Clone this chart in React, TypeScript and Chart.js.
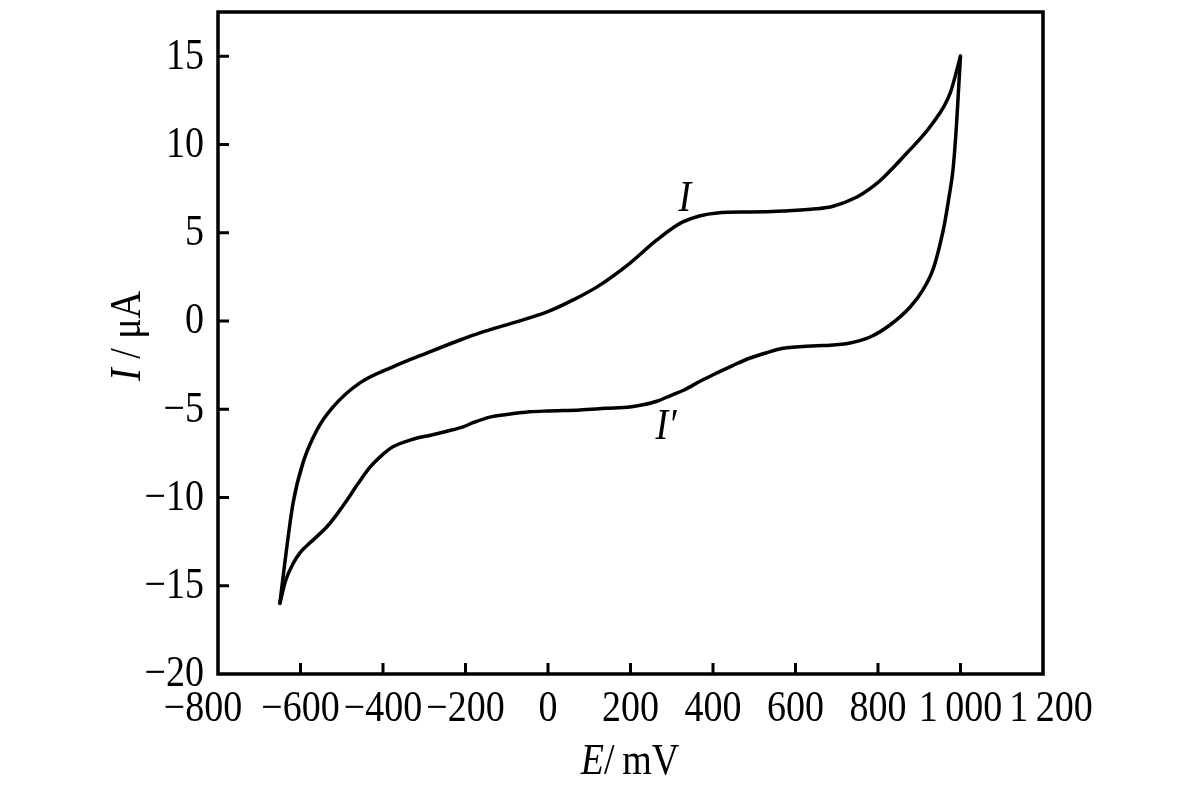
import React, { useEffect, useRef } from "react";
import { Chart, registerables } from "chart.js";

Chart.register(...registerables);

// Forward (anodic) scan, E in mV, I in µA
const forwardE = [-650, -638, -618, -594, -560, -521, -456, -376, -293, -213, -165, -85, -2, 61, 119, 199, 264, 327, 410, 490, 570, 650, 691, 749, 788, 812, 870, 933, 975, 1000];
const forwardI = [-16.0, -13.7, -10.31, -8.04, -6.17, -4.87, -3.51, -2.6, -1.81, -1.08, -0.68, -0.11, 0.51, 1.19, 1.93, 3.28, 4.59, 5.61, 6.12, 6.17, 6.23, 6.35, 6.5, 7.02, 7.62, 8.1, 9.51, 11.21, 12.91, 15.0];

// Reverse (cathodic) scan
const reverseE = [1000, 995, 990, 982, 972, 962, 950, 933, 909, 878, 829, 781, 732, 684, 652, 600, 570, 530, 490, 450, 410, 370, 330, 300, 264, 230, 199, 140, 78, 0, -44, -100, -141, -180, -206, -245, -280, -327, -376, -407, -431, -460, -487, -510, -536, -577, -600, -618, -636, -650];
const reverseI = [15.0, 13.0, 11.0, 8.6, 7.0, 5.6, 4.3, 2.89, 1.76, 0.79, -0.23, -0.91, -1.25, -1.38, -1.4, -1.48, -1.55, -1.8, -2.1, -2.5, -2.94, -3.4, -3.91, -4.2, -4.55, -4.75, -4.87, -4.95, -5.04, -5.1, -5.15, -5.3, -5.45, -5.75, -6.0, -6.25, -6.45, -6.7, -7.13, -7.7, -8.27, -9.2, -10.14, -10.9, -11.66, -12.57, -13.1, -13.75, -14.7, -16.0];

const curveLabels = [
  { text: "I", e: 332, i: 6.9 },
  { text: "I\u2032", e: 286, i: -6.05 },
];

const xMin = -800, xMax = 1200, xStep = 200;
const yMin = -20, yMax = 17.5, yStep = 5;

const xTickValues = [-800, -600, -400, -200, 0, 200, 400, 600, 800, 1000, 1200];
const yTickValues = [-20, -15, -10, -5, 0, 5, 10, 15];

const FONT = "'Liberation Serif', 'Times New Roman', serif";
const SY = 1.14; // vertical stretch of the typeface

function fmtNum(v: number): string {
  const neg = v < 0;
  const a = Math.abs(v);
  let s = String(a);
  if (a >= 1000) s = s.slice(0, s.length - 3) + "\u2009" + s.slice(s.length - 3);
  return (neg ? "\u2212" : "") + s;
}

type Part = { t: string; italic: boolean };

function drawText(ctx: CanvasRenderingContext2D, parts: Part[], x: number, y: number, size: number, align: "left" | "center" | "right") {
  const fonts = parts.map((p) => `${p.italic ? "italic " : ""}${size}px ${FONT}`);
  let total = 0;
  const widths = parts.map((p, k) => {
    ctx.font = fonts[k];
    const w = ctx.measureText(p.t).width;
    total += w;
    return w;
  });
  ctx.save();
  ctx.translate(x, y);
  ctx.scale(1, SY);
  let cx = align === "left" ? 0 : align === "center" ? -total / 2 : -total;
  ctx.textBaseline = "middle";
  ctx.textAlign = "left";
  parts.forEach((p, k) => {
    ctx.font = fonts[k];
    ctx.fillText(p.t, cx, 0);
    cx += widths[k];
  });
  ctx.restore();
}

const framePlugin = {
  id: "frameAndDecor",
  afterDraw(chart: any) {
    const { ctx, chartArea, scales } = chart;
    const xs = scales.x, ys = scales.y;
    ctx.save();
    ctx.strokeStyle = "#000";
    ctx.fillStyle = "#000";
    ctx.lineWidth = 3.5;
    ctx.lineJoin = "miter";
    ctx.strokeRect(chartArea.left, chartArea.top, chartArea.right - chartArea.left, chartArea.bottom - chartArea.top);
    // inward ticks
    ctx.lineWidth = 3;
    ctx.beginPath();
    xTickValues.forEach((v) => {
      if (v === xMin || v === xMax) return;
      const px = xs.getPixelForValue(v);
      ctx.moveTo(px, chartArea.bottom);
      ctx.lineTo(px, chartArea.bottom - 11);
    });
    yTickValues.forEach((v) => {
      if (v === yMin) return;
      const py = ys.getPixelForValue(v);
      ctx.moveTo(chartArea.left, py);
      ctx.lineTo(chartArea.left + 11, py);
    });
    ctx.stroke();

    // tick labels
    xTickValues.forEach((v) => {
      let px = xs.getPixelForValue(v);
      if (v === xMin) px -= 15;
      if (v === xMax) px += 8;
      drawText(ctx, [{ t: fmtNum(v), italic: false }], px, 710, 38, "center");
    });
    yTickValues.forEach((v) => {
      const py = ys.getPixelForValue(v);
      drawText(ctx, [{ t: fmtNum(v), italic: false }], chartArea.left - 14, py + 1, 38, "right");
    });

    // curve labels
    curveLabels.forEach((l) => {
      drawText(ctx, [{ t: l.text, italic: true }], xs.getPixelForValue(l.e), ys.getPixelForValue(l.i), 38, "center");
    });

    // x title
    drawText(ctx, [{ t: "E", italic: true }, { t: "/", italic: false }, { t: "\u2009mV", italic: false }], 630, 763, 38, "center");
    // y title
    ctx.translate(129, 336);
    ctx.rotate(-Math.PI / 2);
    drawText(ctx, [{ t: "I", italic: true }, { t: " / \u03bcA", italic: false }], 0, 0, 38, "center");
    ctx.restore();
  },
};

export default function App() {
  const ref = useRef<HTMLCanvasElement>(null);
  useEffect(() => {
    document.body.style.margin = "0";
    const canvas = ref.current!;
    const lineStyle = {
      showLine: true,
      borderColor: "#000",
      borderWidth: 3.5,
      pointRadius: 0,
      cubicInterpolationMode: "monotone" as const,
      fill: false,
      borderJoinStyle: "round" as const,
      borderCapStyle: "round" as const,
    };
    const chart = new Chart(canvas, {
      type: "scatter",
      data: {
        datasets: [
          { ...lineStyle, data: forwardE.map((e, k) => ({ x: e, y: forwardI[k] })) },
          { ...lineStyle, data: reverseE.map((e, k) => ({ x: e, y: reverseI[k] })) },
        ],
      },
      options: {
        animation: false,
        responsive: false,
        devicePixelRatio: 1,
        layout: { padding: { left: 0, top: 12, right: 157, bottom: 0 } },
        plugins: { legend: { display: false }, tooltip: { enabled: false } },
        scales: {
          x: {
            type: "linear",
            min: xMin,
            max: xMax,
            ticks: { display: false, stepSize: xStep },
            grid: { display: false, drawTicks: false },
            border: { display: false },
            afterFit: (s: any) => { s.height = 120; },
          },
          y: {
            type: "linear",
            min: yMin,
            max: yMax,
            ticks: { display: false, stepSize: yStep },
            grid: { display: false, drawTicks: false },
            border: { display: false },
            afterFit: (s: any) => { s.width = 218; },
          },
        },
      },
      plugins: [framePlugin],
    });
    return () => chart.destroy();
  }, []);
  return (
    <div style={{ position: "absolute", left: 0, top: 0, width: 1200, height: 794, background: "#fff" }}>
      <canvas ref={ref} width={1200} height={794} />
    </div>
  );
}
